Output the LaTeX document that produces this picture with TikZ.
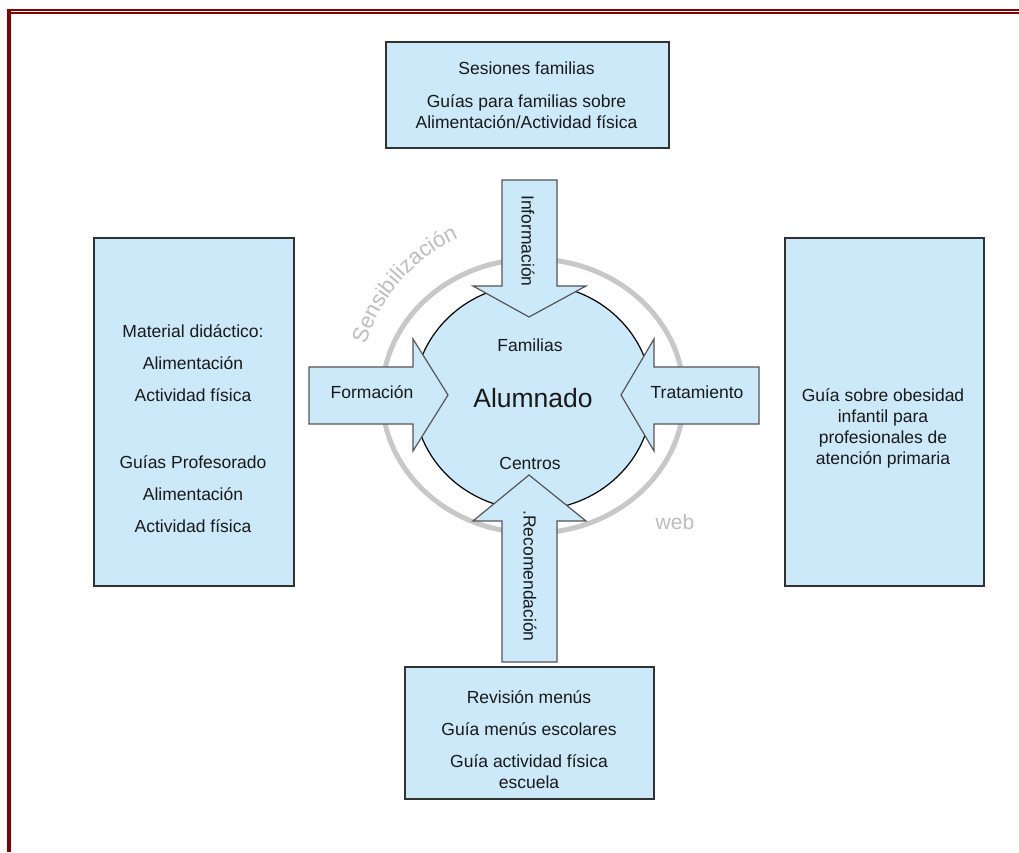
\documentclass[tikz,border=0pt]{standalone}
\usepackage{fontspec}
\setmainfont{Liberation Sans}
\usetikzlibrary{decorations.text,shapes.geometric}
\definecolor{boxfill}{RGB}{204,233,250}
\definecolor{boxline}{RGB}{50,50,50}
\definecolor{arrline}{RGB}{85,85,85}
\definecolor{framered}{RGB}{128,0,0}
\definecolor{ringgray}{RGB}{200,200,200}
\definecolor{ringtext}{RGB}{190,190,190}
\definecolor{txt}{RGB}{25,25,25}
\begin{document}
\begin{tikzpicture}[x=1pt,y=1pt,
  infobox/.style={draw=boxline, line width=1.6pt, fill=boxfill, inner sep=0pt, anchor=south west},
  blockarrow/.style={draw=arrline, line width=1.2pt, fill=boxfill, line join=miter},
  boxtext/.style={align=center, text=txt, font=\fontsize{17.5}{21}\selectfont, inner sep=0pt},
  lbl/.style={text=txt, font=\fontsize{17.5}{20}\selectfont, inner sep=0pt},
  graylbl/.style={text=ringtext, font=\fontsize{21}{21}\selectfont, inner sep=0pt}
]
\useasboundingbox (0,0) rectangle (1019,852);
\fill[white] (0,0) rectangle (1019,852);
% frame
\fill[framered] (7,0) rectangle (11,843);
\fill[framered] (7,841) rectangle (1019,843);
\fill[framered] (11,838) rectangle (1019,840);

% boxes
\node[infobox, minimum width=283pt, minimum height=106pt] (famBox) at (385,703) {};
\node[infobox, minimum width=200pt, minimum height=348pt] (profBox) at (93,265) {};
\node[infobox, minimum width=199pt, minimum height=348pt] (apBox) at (784,265) {};
\node[infobox, minimum width=249pt, minimum height=132pt] (escBox) at (404,52) {};

\node[boxtext] (famTxt) at (526.5,756.5) {Sesiones familias\\[12pt]Guías para familias sobre\\Alimentación/Actividad física};
\node[boxtext] (profTxt) at (193,423.5) {Material didáctico:\\[11pt]Alimentación\\[11pt]Actividad física\\[46pt]Guías Profesorado\\[11pt]Alimentación\\[11pt]Actividad física};
\node[boxtext] (apTxt) at (883,424) {Guía sobre obesidad\\infantil para\\profesionales de\\atención primaria};
\node[boxtext] (escTxt) at (529,112.5) {Revisión menús\\[11pt]Guía menús escolares\\[11pt]Guía actividad física\\escuela};

% ring and core
\draw[ringgray, line width=5pt] (533,456) ellipse [x radius=151pt, y radius=137pt];
\node[draw=black, line width=1.2pt, fill=boxfill, ellipse, minimum width=238pt, minimum height=226pt, inner sep=0pt] (core) at (533,455) {};

% block arrows
\draw[blockarrow] (502,672) -- (557,672) -- (557,566) -- (586,566) -- (529,535) -- (473,566) -- (502,566) -- cycle;
\draw[blockarrow] (502,190) -- (557,190) -- (557,331) -- (586,331) -- (529,377) -- (473,331) -- (502,331) -- cycle;
\draw[blockarrow] (309,485) -- (413,485) -- (413,513) -- (448,457) -- (413,401) -- (413,428) -- (309,428) -- cycle;
\draw[blockarrow] (759,485) -- (654,485) -- (654,513) -- (621,457) -- (654,401) -- (654,428) -- (759,428) -- cycle;

% labels
\node[lbl, rotate=-90] (info) at (528,611) {Información};
\node[lbl, rotate=-90] (recom) at (530,276) {.Recomendación};
\node[lbl] (form) at (372,460) {Formación};
\node[lbl] (trat) at (697,460) {Tratamiento};
\node[lbl] (fam) at (530,507) {Familias};
\node[lbl] (cen) at (530,389) {Centros};
\node[text=txt, font=\fontsize{26.5}{26}\selectfont, inner sep=0pt] (alum) at (533,454) {Alumnado};
\node[graylbl] (web) at (675,330) {web};
\path[decorate, decoration={text along path, text align=center,
  text={|\fontsize{22}{22}\selectfont\color{ringtext}|Sensibilización}}]
  (533,456) ++(168:175pt) arc[start angle=168, end angle=110, radius=175pt];
\end{tikzpicture}
\end{document}
